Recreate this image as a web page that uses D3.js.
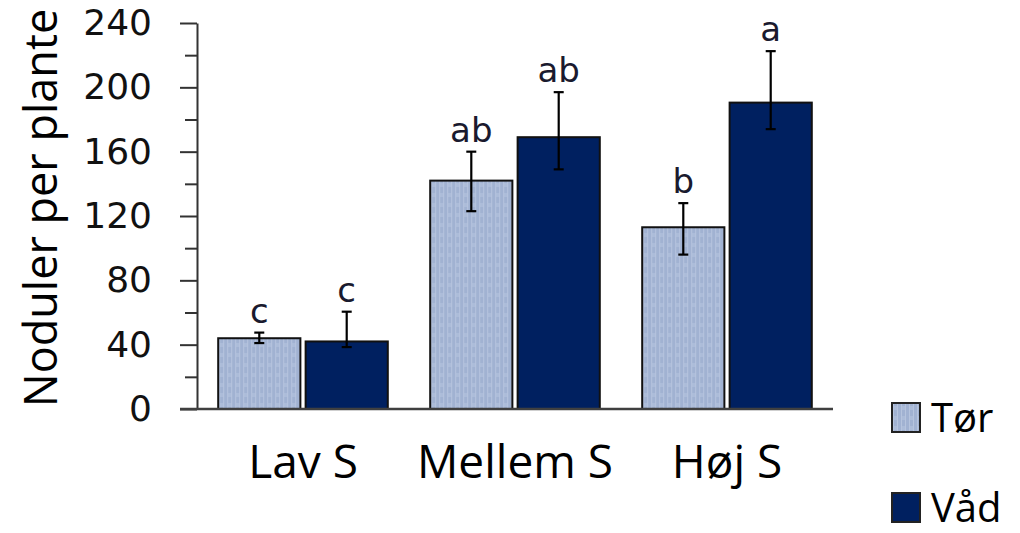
<!DOCTYPE html>
<html>
<head>
<meta charset="utf-8">
<script src="https://cdn.jsdelivr.net/npm/d3@7/dist/d3.min.js"></script>
<style>
  html, body { margin: 0; padding: 0; background: #fff; }
  svg { display: block; }
</style>
</head>
<body>
<svg id="chart" width="1020" height="533"></svg>
<script>
// Nodules per plant by sulphur level and water regime
const categories = ["Lav S", "Mellem S", "Høj S"];
const seriesNames = ["Tør", "Våd"];
const torValues = [44, 142, 113];
const torErrUp = [3.5, 18, 15];
const torErrDown = [3, 19, 17];
const vadValues = [42, 169, 190.5];
const vadErrUp = [18.5, 28, 32];
const vadErrDown = [3.5, 20, 16.5];
const torLetters = ["c", "ab", "b"];
const vadLetters = ["c", "ab", "a"];
const yTicks = [0, 40, 80, 120, 160, 200, 240];
const yMinorTicks = [20, 60, 100, 140, 180, 220];

const svg = d3.select("#chart");

const margin = { left: 197, right: 833, top: 23, bottom: 409 };

const y = d3.scaleLinear().domain([0, 240]).range([margin.bottom, margin.top]);
const x0 = d3.scaleBand().domain(categories).range([margin.left, margin.right])
  .paddingInner(0.2).paddingOuter(0.1);
const x1 = d3.scaleBand().domain(seriesNames).range([0, x0.bandwidth()]).paddingInner(0.06);

// light textured fill for the dry series
const defs = svg.append("defs");
const pat = defs.append("pattern").attr("id", "torFill")
  .attr("patternUnits", "userSpaceOnUse").attr("width", 8).attr("height", 10);
pat.append("rect").attr("width", 8).attr("height", 10).attr("fill", "#a1b2d2");
pat.append("rect").attr("x", 1).attr("y", 0).attr("width", 1).attr("height", 10).attr("fill", "#b6c4de");
pat.append("rect").attr("x", 5).attr("y", 0).attr("width", 1).attr("height", 10).attr("fill", "#b6c4de");
pat.append("rect").attr("x", 2).attr("y", 3).attr("width", 3).attr("height", 4).attr("fill", "#acbcd9");

const fills = { "Tør": "url(#torFill)", "Våd": "#002060" };

const rows = categories.map((c, i) => ({
  cat: c,
  bars: [
    { s: "Tør", v: torValues[i], up: torErrUp[i], down: torErrDown[i], letter: torLetters[i] },
    { s: "Våd", v: vadValues[i], up: vadErrUp[i], down: vadErrDown[i], letter: vadLetters[i] }
  ]
}));

// y axis: major ticks with labels
const yAxis = d3.axisLeft(y).tickValues(yTicks).tickSize(17).tickPadding(28).tickSizeOuter(0);
const gy = svg.append("g").attr("transform", `translate(${margin.left},0)`).call(yAxis);
gy.select(".domain").attr("stroke", "#333").attr("stroke-width", 2);
gy.selectAll(".tick line").attr("stroke", "#333").attr("stroke-width", 2);
gy.selectAll(".tick text")
  .attr("font-family", "DejaVu Sans, Verdana, sans-serif")
  .attr("font-size", 36).attr("fill", "#111");

// minor ticks
const yMinor = d3.axisLeft(y).tickValues(yMinorTicks).tickSize(12).tickFormat("");
const gym = svg.append("g").attr("transform", `translate(${margin.left},0)`).call(yMinor);
gym.select(".domain").remove();
gym.selectAll(".tick line").attr("stroke", "#333").attr("stroke-width", 2);

// bars
const groups = svg.append("g").selectAll("g").data(rows).join("g")
  .attr("transform", d => `translate(${x0(d.cat)},0)`);

groups.selectAll("rect").data(d => d.bars).join("rect")
  .attr("x", d => x1(d.s))
  .attr("y", d => y(d.v))
  .attr("width", x1.bandwidth())
  .attr("height", d => y(0) - y(d.v))
  .attr("fill", d => fills[d.s])
  .attr("stroke", "#111").attr("stroke-width", 2);

// error bars
const cap = 5;
const eb = groups.selectAll("g.err").data(d => d.bars).join("g").attr("class", "err")
  .attr("stroke", "#000").attr("stroke-width", 2.2);
eb.append("line")
  .attr("x1", d => x1(d.s) + x1.bandwidth() / 2).attr("x2", d => x1(d.s) + x1.bandwidth() / 2)
  .attr("y1", d => y(d.v + d.up)).attr("y2", d => y(d.v - d.down));
eb.append("line")
  .attr("x1", d => x1(d.s) + x1.bandwidth() / 2 - cap).attr("x2", d => x1(d.s) + x1.bandwidth() / 2 + cap)
  .attr("y1", d => y(d.v + d.up)).attr("y2", d => y(d.v + d.up));
eb.append("line")
  .attr("x1", d => x1(d.s) + x1.bandwidth() / 2 - cap).attr("x2", d => x1(d.s) + x1.bandwidth() / 2 + cap)
  .attr("y1", d => y(d.v - d.down)).attr("y2", d => y(d.v - d.down));

// significance letters
groups.selectAll("text.sig").data(d => d.bars).join("text").attr("class", "sig")
  .attr("x", d => x1(d.s) + x1.bandwidth() / 2)
  .attr("y", d => y(d.v + d.up) - 10)
  .attr("text-anchor", "middle")
  .attr("font-family", "DejaVu Sans, Verdana, sans-serif")
  .attr("font-size", 34).attr("fill", "#1a1a2e")
  .text(d => d.letter);

// x axis baseline and category labels
const xAxis = d3.axisBottom(x0).tickSize(0).tickPadding(0);
const gx = svg.append("g").attr("transform", `translate(0,${margin.bottom})`).call(xAxis);
gx.select(".domain").remove();
gx.append("line").attr("x1", 180).attr("x2", margin.right).attr("y1", 0).attr("y2", 0)
  .attr("stroke", "#404040").attr("stroke-width", 2.5);
gx.selectAll(".tick text")
  .attr("dy", null).attr("y", 69)
  .attr("font-family", "Open Sans, Noto Sans, sans-serif")
  .attr("font-size", 46).attr("fill", "#000");

// y axis title
svg.append("text")
  .attr("transform", "translate(57,208) rotate(-90)")
  .attr("text-anchor", "middle")
  .attr("font-family", "Open Sans, Noto Sans, sans-serif")
  .attr("font-size", 45).attr("fill", "#000")
  .text("Noduler per plante");

// legend
const legend = svg.append("g").selectAll("g").data(seriesNames).join("g")
  .attr("transform", (d, i) => `translate(892,${403 + i * 90})`);
legend.append("rect").attr("width", 28).attr("height", 29)
  .attr("fill", d => fills[d]).attr("stroke", "#222").attr("stroke-width", 2);
legend.append("text").attr("x", 39).attr("y", 29)
  .attr("font-family", "Open Sans, Noto Sans, sans-serif")
  .attr("font-size", 40).attr("fill", "#000")
  .text(d => d);
</script>
</body>
</html>
